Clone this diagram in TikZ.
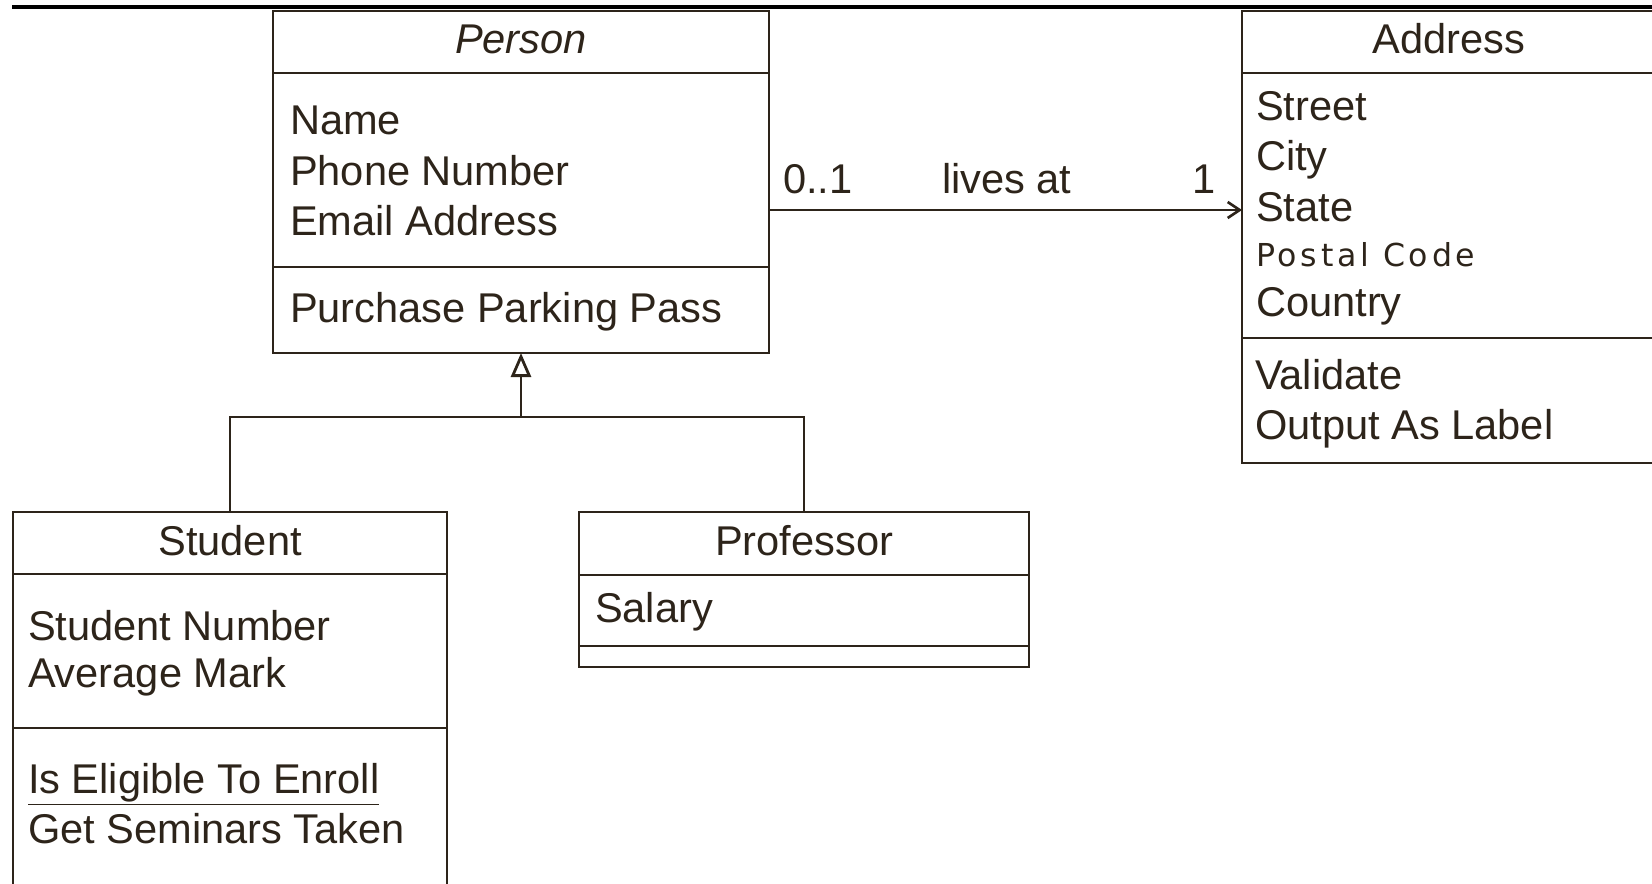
\documentclass[tikz,border=0pt]{standalone}
\usepackage{fontspec}
\setmainfont{Liberation Sans}
\newfontfamily\postalfont[LetterSpace=12]{DejaVu Sans}
\usetikzlibrary{arrows.meta,calc}
\definecolor{ink}{RGB}{45,36,26}
\begin{document}
\begin{tikzpicture}[x=0.5pt,y=-0.5pt,
  every node/.style={inner sep=0pt, outer sep=0pt},
  classbox/.style={draw=ink, line width=1.3pt, rectangle, anchor=north west},
  sep/.style={draw=ink, line width=1.3pt},
  txt/.style={anchor=base west, text=ink, font=\fontsize{20.8}{25}\selectfont},
  ttl/.style={anchor=base, text=ink, font=\fontsize{20.8}{25}\selectfont},
  assoc/.style={draw=ink, line width=1.3pt, -{Straight Barb[length=6pt,width=8pt]}},
  gen/.style={draw=ink, line width=1.3pt},
  genhead/.style={draw=ink, line width=1.4pt, -{Triangle[open, length=12pt, width=10pt, fill=white]}}
]
\useasboundingbox (0,0) rectangle (1652,883);
\clip (0,0) rectangle (1652,883);

% top rule
\draw[black, line width=1.7pt] (12,7) -- (1652,7);

% Person
\node[classbox, minimum width=248pt, minimum height=171pt] (person) at (273,11) {};
\draw[sep] (person.west |- 0,73) -- (person.east |- 0,73);
\draw[sep] (person.west |- 0,267) -- (person.east |- 0,267);
\node[ttl] (personT) at (521,54) {\itshape Person};
\node[txt] (pa1) at (290,134) {Name};
\node[txt] (pa2) at (290,185) {Phone Number};
\node[txt] (pa3) at (290,235) {Email Address};
\node[txt] (pm1) at (290,322) {Purchase Parking Pass};

% Address
\node[classbox, minimum width=207pt, minimum height=226pt] (address) at (1242,11) {};
\draw[sep] (address.west |- 0,73) -- (address.east |- 0,73);
\draw[sep] (address.west |- 0,338) -- (address.east |- 0,338);
\node[ttl] (addressT) at (1449,54) {Address};
\node[txt] (aa1) at (1256,120) {Street};
\node[txt] (aa2) at (1256,170) {City};
\node[txt] (aa3) at (1256,221) {State};
\node[txt, font=\postalfont\fontsize{15.8}{18}\selectfont] (aa4) at (1256,266) {Postal Code};
\node[txt] (aa5) at (1256,316) {Country};
\node[txt] (am1) at (1255,389) {Validate};
\node[txt] (am2) at (1255,439) {Output As Label};

% Student
\node[classbox, minimum width=217pt, minimum height=194pt] (student) at (13,512) {};
\draw[sep] (student.west |- 0,574) -- (student.east |- 0,574);
\draw[sep] (student.west |- 0,728) -- (student.east |- 0,728);
\node[ttl] (studentT) at (230,555) {Student};
\node[txt] (sa1) at (28,640) {Student Number};
\node[txt] (sa2) at (28,687) {Average Mark};
\node[txt] (sm1) at (28,793) {\underline{Is Eligible To Enroll}};
\node[txt] (sm2) at (28,843) {Get Seminars Taken};

% Professor
\node[classbox, minimum width=225pt, minimum height=77.5pt] (professor) at (579,512) {};
\draw[sep] (professor.west |- 0,575) -- (professor.east |- 0,575);
\draw[sep] (professor.west |- 0,646) -- (professor.east |- 0,646);
\node[ttl] (professorT) at (804,555) {Professor};
\node[txt] (pra1) at (595,622) {Salary};

% association
\coordinate (a1) at ($(person.north east)!{(210-11)/342}!(person.south east)$);
\draw[assoc] (a1) -- (a1 -| address.west);
\node[txt] (m1) at (783,193) {0..1};
\node[txt] (m2) at (942,193) {lives at};
\node[txt, anchor=base east] (m3) at (1216,193) {1};

% generalization
\coordinate (j) at (person.south |- 0,417);
\draw[gen] (student.north) |- (professor.north |- j) -- (professor.north);
\draw[genhead] (j) -- (person.south);
\end{tikzpicture}
\end{document}
